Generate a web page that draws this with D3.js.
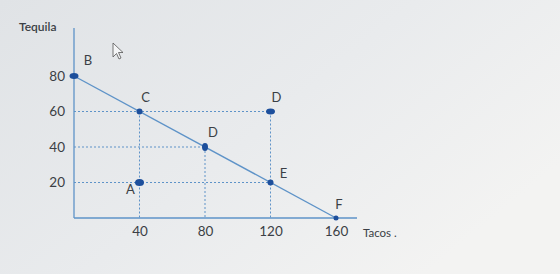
<!DOCTYPE html>
<html>
<head>
<meta charset="utf-8">
<script src="https://cdn.jsdelivr.net/npm/d3@7"></script>
<style>
  html, body { margin: 0; padding: 0; }
  body { width: 560px; height: 274px; overflow: hidden; }
  text { font-family: Lato, "Open Sans", sans-serif; fill: #3b3f45; }
</style>
</head>
<body>
<svg id="chart"></svg>
<script>
// Data
const pointLabels = ["B", "C", "D", "E", "F", "A", "D"];
const pointTacos = [0, 40, 80, 120, 160, 40, 120];
const pointTequila = [80, 60, 40, 20, 0, 20, 60];

// production possibility frontier end points
const ppfTacos = [0, 160];
const ppfTequila = [80, 0];

const xTicks = [40, 80, 120, 160];
const yTicks = [20, 40, 60, 80];

// dashed guide lines: [fromTacos, fromTequila, toTacos, toTequila]
const guides = [
  [0, 60, 120, 60],
  [0, 40, 80, 40],
  [0, 20, 120, 20],
  [40, 60, 40, 0],
  [80, 40, 80, 0],
  [120, 60, 120, 0]
];

// Layout
const width = 560;
const height = 274;
const lineColor = "#5e93c8";
const dotColor = "#1d4f9c";

// label offsets (dx, dy) and dot radii, same order as the points
const labelOffsets = [[14, -14], [6, -13], [8, -13], [13, -8], [3, -12], [-9, 8], [6, -13]];
const dotRadii = [[4.5, 3], [3, 3], [3, 4], [3, 3], [2.5, 2.5], [4.5, 3.5], [4.5, 3]];

const svg = d3.select("#chart")
    .attr("width", width)
    .attr("height", height);

// photo-like background
const defs = svg.append("defs");
const grad = defs.append("linearGradient")
    .attr("id", "bg")
    .attr("x1", "0").attr("y1", "0")
    .attr("x2", "1").attr("y2", "0.6");
grad.append("stop").attr("offset", "0").attr("stop-color", "#e0e3e6");
grad.append("stop").attr("offset", "0.55").attr("stop-color", "#e9ebed");
grad.append("stop").attr("offset", "1").attr("stop-color", "#f3f3f2");

svg.append("rect")
    .attr("width", width)
    .attr("height", height)
    .attr("fill", "url(#bg)");

const x = d3.scaleLinear().domain([0, 160]).range([74, 336]);
const y = d3.scaleLinear().domain([0, 80]).range([218, 76]);

// axes lines
svg.append("line")
    .attr("x1", x(0)).attr("x2", x(0))
    .attr("y1", y(0)).attr("y2", 28)
    .attr("stroke", lineColor).attr("stroke-width", 1.3);
svg.append("line")
    .attr("x1", x(0)).attr("x2", 357)
    .attr("y1", y(0)).attr("y2", y(0))
    .attr("stroke", lineColor).attr("stroke-width", 1.3);

// tick labels through d3 axes
const xAxis = svg.append("g")
    .attr("transform", `translate(0,${y(0)})`)
    .call(d3.axisBottom(x).tickValues(xTicks).tickSize(0).tickPadding(8));
const yAxis = svg.append("g")
    .attr("transform", `translate(${x(0)},0)`)
    .call(d3.axisLeft(y).tickValues(yTicks).tickSize(0).tickPadding(9));

[xAxis, yAxis].forEach(g => {
  g.select(".domain").remove();
  g.selectAll("text")
      .style("font-family", "Lato, 'Open Sans', sans-serif")
      .style("font-size", "13.5px")
      .attr("fill", "#35393f");
});

// axis titles
svg.append("text")
    .attr("x", 19).attr("y", 31)
    .style("font-size", "12px")
    .style("font-weight", "600")
    .attr("fill", "#4a4f57")
    .text("Tequila");
svg.append("text")
    .attr("x", 363).attr("y", 237)
    .style("font-size", "11.5px")
    .attr("fill", "#4a4f57")
    .text("Tacos .");

// dashed guides
svg.selectAll(".guide")
    .data(guides)
    .enter()
    .append("line")
    .attr("class", "guide")
    .attr("x1", d => x(d[0])).attr("y1", d => y(d[1]))
    .attr("x2", d => x(d[2])).attr("y2", d => y(d[3]))
    .attr("stroke", lineColor)
    .attr("stroke-width", 1)
    .attr("stroke-dasharray", "2,2");

// frontier
svg.append("line")
    .attr("x1", x(ppfTacos[0])).attr("y1", y(ppfTequila[0]))
    .attr("x2", x(ppfTacos[1])).attr("y2", y(ppfTequila[1]))
    .attr("stroke", lineColor)
    .attr("stroke-width", 1.4);

// points
const pts = pointLabels.map((label, i) => ({
  label: label,
  tacos: pointTacos[i],
  tequila: pointTequila[i],
  off: labelOffsets[i],
  r: dotRadii[i]
}));

svg.selectAll(".dot")
    .data(pts)
    .enter()
    .append("ellipse")
    .attr("class", "dot")
    .attr("cx", d => x(d.tacos))
    .attr("cy", d => y(d.tequila))
    .attr("rx", d => d.r[0])
    .attr("ry", d => d.r[1])
    .attr("fill", dotColor);

svg.selectAll(".lbl")
    .data(pts)
    .enter()
    .append("text")
    .attr("class", "lbl")
    .attr("x", d => x(d.tacos) + d.off[0])
    .attr("y", d => y(d.tequila) + d.off[1])
    .attr("text-anchor", "middle")
    .attr("dominant-baseline", "middle")
    .style("font-size", "13px")
    .attr("fill", "#35393f")
    .text(d => d.label);

// mouse cursor seen in the screenshot
svg.append("path")
    .attr("d", "M113,43 L113,57 L116.5,53.5 L119,59 L121,58 L118.5,52.5 L123,52.5 Z")
    .attr("fill", "#f4f5f6")
    .attr("stroke", "#555")
    .attr("stroke-width", 0.8);
</script>
</body>
</html>
